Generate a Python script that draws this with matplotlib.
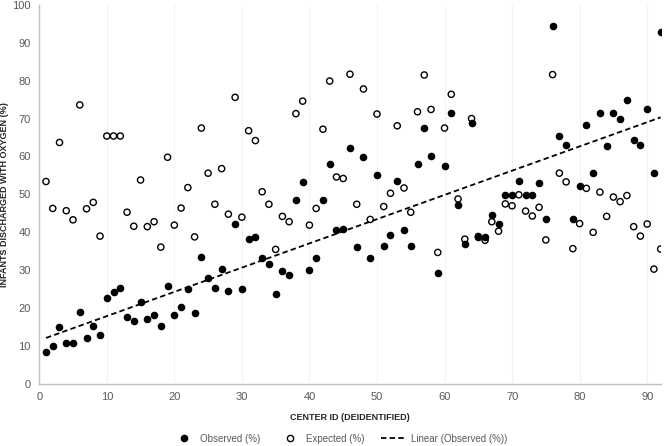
import numpy as np
import matplotlib
matplotlib.use('Agg')
import matplotlib.pyplot as plt
from matplotlib.lines import Line2D

# center ids 1..92 and values (%)
centers = list(range(1, 93))

observed = [8.4, 10.0, 15.1, 10.9, 10.9, 19.0, 12.2, 15.2, 12.9, 22.8,
            24.3, 25.4, 17.7, 16.6, 21.6, 17.1, 18.1, 15.4, 25.9, 18.2,
            20.4, 25.1, 18.7, 33.6, 27.9, 25.2, 30.3, 24.5, 42.3, 25.0,
            38.2, 38.7, 33.3, 31.6, 23.7, 29.8, 28.8, 48.6, 53.3, 30.1,
            33.3, 48.5, 58.0, 40.5, 40.8, 62.3, 36.2, 59.8, 33.3, 55.0,
            36.3, 39.4, 53.6, 40.7, 36.5, 58.1, 67.4, 60.2, 29.4, 57.6,
            71.5, 47.2, 37.0, 68.9, 38.9, 38.9, 44.6, 42.3, 49.9, 49.9,
            53.6, 49.9, 49.9, 52.9, 43.4, 94.4, 65.3, 62.9, 43.4, 52.2,
            68.4, 55.6, 71.6, 62.8, 71.4, 70.0, 75.0, 64.3, 63.0, 72.6,
            55.6, 92.9]

expected = [53.4, 46.3, 63.7, 45.7, 43.3, 73.6, 46.2, 47.9, 39.0, 65.4,
            65.4, 65.4, 45.3, 41.6, 53.8, 41.5, 42.8, 36.1, 59.8, 41.9,
            46.4, 51.8, 38.8, 67.5, 55.6, 47.4, 56.8, 44.8, 75.6, 44.0,
            66.8, 64.2, 50.7, 47.4, 35.5, 44.2, 42.8, 71.3, 74.6, 41.9,
            46.3, 67.2, 79.9, 54.6, 54.2, 81.7, 47.4, 77.8, 43.4, 71.2,
            46.8, 50.3, 68.1, 51.7, 45.3, 71.8, 81.5, 72.4, 34.7, 67.5,
            76.4, 48.8, 38.2, 70.0, 38.9, 37.9, 42.8, 40.3, 47.5, 47.0,
            49.9, 45.6, 44.3, 46.6, 38.0, 81.6, 55.6, 53.3, 35.7, 42.3,
            51.6, 40.0, 50.6, 44.2, 49.3, 48.1, 49.7, 41.5, 39.0, 42.2,
            30.3, 35.6]

xticks = list(range(0, 100, 10))
yticks = list(range(0, 110, 10))

txt = '#595959'
plt.rcParams['font.family'] = ['Liberation Sans', 'DejaVu Sans']

fig = plt.figure(figsize=(6.65, 4.46), dpi=100)
ax = fig.add_axes([0.059, 0.139, 0.9345, 0.8502])

ax.scatter(centers, observed, s=20, color='black', zorder=3)
ax.scatter(centers, expected, s=20, facecolors='none', edgecolors='black',
           linewidths=1.0, zorder=4)

# linear trendline of observed
x = np.array(centers, dtype=float)
k, b = np.polyfit(x, np.array(observed), 1)
ax.plot(x, k * x + b, color='black', lw=1.3, ls=(0, (3, 1.8)), zorder=2)

ax.set_xlim(0, 92)
ax.set_ylim(0, 100)
ax.set_xticks(xticks)
ax.set_yticks(yticks)
ax.tick_params(length=0, labelsize=8, colors=txt, pad=6)
ax.xaxis.grid(True, color='#F3F3F3', lw=0.8)
ax.set_axisbelow(True)
for s in ['top', 'right']:
    ax.spines[s].set_visible(False)
for s in ['left', 'bottom']:
    ax.spines[s].set_color('#BFBFBF')
    ax.spines[s].set_linewidth(1.0)

ax.set_xlabel('CENTER ID (DEIDENTIFIED)', fontsize=6.5, fontweight='bold',
              color='#262626')
ax.xaxis.set_label_coords(0.5, -0.077)
ax.set_ylabel('INFANTS DISCHARGED WITH OXYGEN (%)', fontsize=6.5,
              fontweight='bold', color='#262626')
ax.yaxis.set_label_coords(-0.048, 0.5)

handles = [
    Line2D([], [], ls='none', marker='o', ms=4.5, color='black'),
    Line2D([], [], ls='none', marker='o', ms=4.5, mfc='none', mec='black', mew=1.0),
    Line2D([], [], color='black', lw=1.3, ls=(0, (3, 1.8))),
]
labels = ['Observed (%)', 'Expected (%)', 'Linear (Observed (%))']
fig.legend(handles, labels, loc='center', bbox_to_anchor=(0.51, 0.016),
           ncol=3, frameon=False, fontsize=7, labelcolor=txt,
           handlelength=2.6, columnspacing=1.7, handletextpad=0.4)

fig.savefig('out.png', dpi=100)
